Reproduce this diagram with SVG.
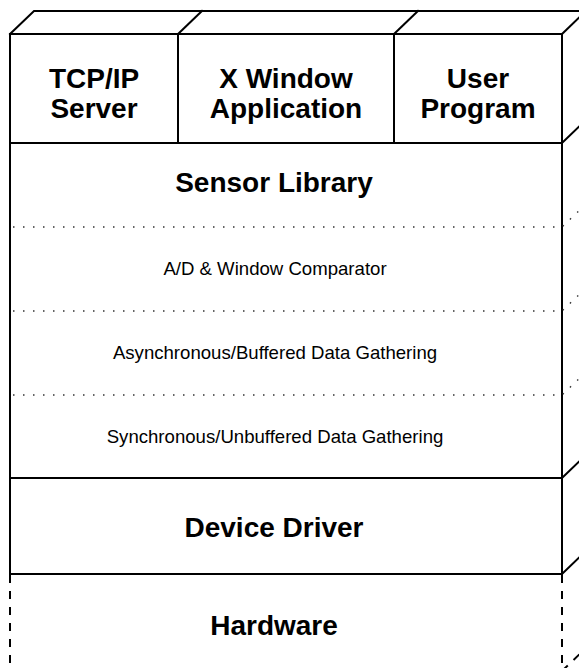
<svg xmlns="http://www.w3.org/2000/svg" width="579" height="668" viewBox="0 0 579 668">
<style>
.solid{fill:none;stroke:#000;stroke-width:2;stroke-linecap:square;stroke-linejoin:miter}
.dot{fill:none;stroke:#333;stroke-width:1.4;stroke-dasharray:1.5 8.5}
.dash{fill:none;stroke:#000;stroke-width:2;stroke-dasharray:8 8}
.big{font-family:"Liberation Sans",Arial,sans-serif;font-weight:bold;font-size:28px;fill:#000;text-anchor:middle}
.small{font-family:"Liberation Sans",Arial,sans-serif;font-size:18.6px;fill:#000;text-anchor:middle}
</style>
<rect width="579" height="668" fill="#fff"/>
<g id="connectors">
  <!-- top face -->
  <path class="solid" d="M10,34 L34,11 L590,11"/>
  <path class="solid" d="M178,34 L202,11"/>
  <path class="solid" d="M394,34 L418,11"/>
  <path class="solid" d="M562,34 L586,11"/>
  <!-- front outline -->
  <path class="solid" d="M10,574 L10,34 L562,34 L562,574"/>
  <path class="solid" d="M178,34 L178,143"/>
  <path class="solid" d="M394,34 L394,143"/>
  <path class="solid" d="M10,143 L562,143 L586,120"/>
  <path class="solid" d="M10,478 L562,478 L586,455"/>
  <path class="solid" d="M10,574 L562,574 L586,551"/>
  <!-- dotted layers -->
  <path class="dot" d="M13,227 L562,227 L586,204"/>
  <path class="dot" d="M13,311 L562,311 L586,288"/>
  <path class="dot" d="M13,395 L562,395 L586,372"/>
  <!-- hardware dashed -->
  <path class="dash" d="M10,575 L10,672"/>
  <path class="dash" d="M562,575 L562,672"/>
  <path class="dash" d="M562,671 L586,648"/>
</g>
<g id="tcpip-server">
  <text class="big" x="94" y="88">TCP/IP</text>
  <text class="big" x="94" y="118">Server</text>
</g>
<g id="x-window-application">
  <text class="big" x="286" y="88">X Window</text>
  <text class="big" x="286" y="118">Application</text>
</g>
<g id="user-program">
  <text class="big" x="478" y="88">User</text>
  <text class="big" x="478" y="118">Program</text>
</g>
<g id="sensor-library">
  <text class="big" x="274" y="192">Sensor Library</text>
</g>
<g id="ad-window-comparator">
  <text class="small" x="275" y="275">A/D &amp; Window Comparator</text>
</g>
<g id="async-buffered">
  <text class="small" x="275" y="359">Asynchronous/Buffered Data Gathering</text>
</g>
<g id="sync-unbuffered">
  <text class="small" x="275" y="443">Synchronous/Unbuffered Data Gathering</text>
</g>
<g id="device-driver">
  <text class="big" x="274" y="537">Device Driver</text>
</g>
<g id="hardware">
  <text class="big" x="274" y="635">Hardware</text>
</g>
</svg>
